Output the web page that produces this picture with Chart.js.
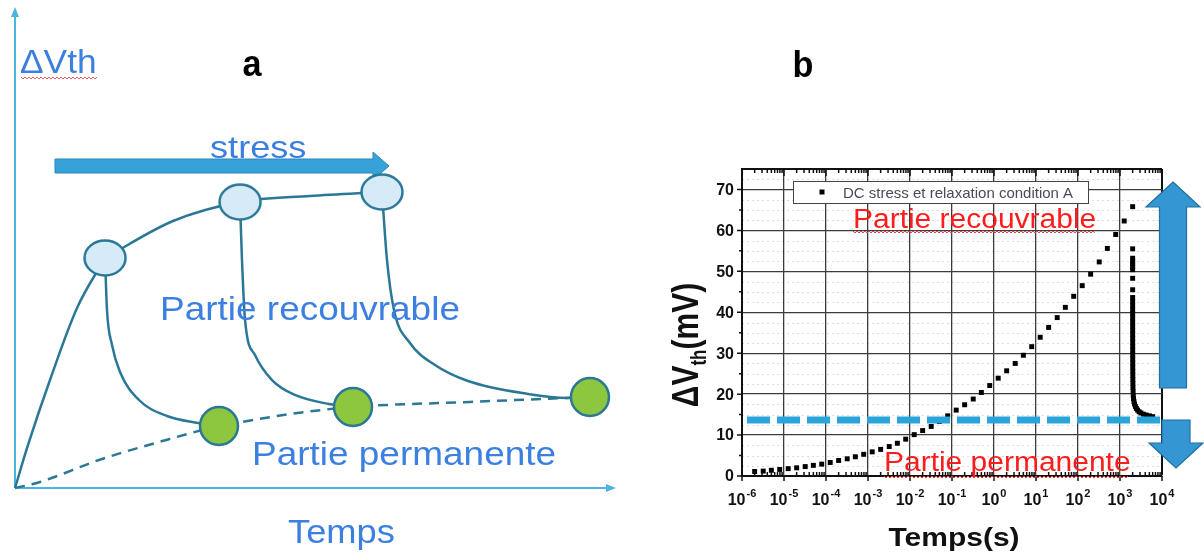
<!DOCTYPE html>
<html>
<head>
<meta charset="utf-8">
<script src="https://cdn.jsdelivr.net/npm/chart.js@4.4.1/dist/chart.umd.min.js"></script>
<style>
  html, body { margin: 0; padding: 0; background: #fff; }
  #wrap { position: relative; width: 1204px; height: 558px; overflow: hidden; }
  #schema { position: absolute; left: 0; top: 0; }
  #mesure { position: absolute; left: 620px; top: 0; }
</style>
</head>
<body>
<div id="wrap">
  <canvas id="schema" width="620" height="558"></canvas>
  <canvas id="mesure" width="584" height="558"></canvas>
</div>
<script>
// ---------- panel a : schematic, arbitrary units (0-100) ----------
const riseTime = [0, 2.18, 5.86, 10.39, 15.08];
const riseShift = [0, 9.0, 22.6, 37.66, 48.12];
const envelopeTime = [15.08, 26.47, 37.69, 49.41, 61.47];
const envelopeShift = [48.12, 55.86, 59.83, 61.09, 61.92];
const relax1Time = [15.08, 15.41, 16.25, 17.59, 20.77, 25.46, 30.65, 34.17];
const relax1Shift = [48.12, 37.24, 29.92, 24.27, 18.41, 15.06, 13.6, 12.97];
const relax2Time = [37.69, 38.02, 38.53, 40.2, 43.05, 46.9, 52.6, 56.62];
const relax2Shift = [59.83, 47.7, 35.15, 27.82, 22.59, 19.46, 17.57, 16.95];
const relax3Time = [61.47, 62.31, 63.48, 66.16, 70.35, 75.88, 85.93, 92.46, 96.31];
const relax3Shift = [61.92, 47.7, 37.24, 30.33, 25.73, 22.38, 19.67, 18.83, 19.04];
const permanentTime = [0, 4.19, 14.07, 24.12, 34.17, 38.02, 46.06, 56.62, 76.21, 96.31];
const permanentShift = [0, 1.26, 5.86, 9.62, 12.97, 13.81, 15.48, 16.95, 18.0, 19.04];
const stressEndTime = [15.08, 37.69, 61.47];
const stressEndShift = [48.12, 59.83, 61.92];
const recoveredTime = [34.17, 56.62, 96.31];
const recoveredShift = [12.97, 16.95, 19.04];

// ---------- panel b : measurement ----------
const stressTime = [
  2e-6, 3.2e-6, 5e-6, 7.9e-6,
  1.26e-5, 2e-5, 3.2e-5, 5e-5, 7.9e-5,
  1.26e-4, 2e-4, 3.2e-4, 5e-4, 7.9e-4,
  1.26e-3, 2e-3, 3.2e-3, 5e-3, 7.9e-3,
  0.0126, 0.02, 0.032, 0.05, 0.079,
  0.126, 0.2, 0.32, 0.5, 0.79,
  1.26, 2, 3.2, 5, 7.9,
  12.6, 20, 32, 50, 79,
  126, 200, 320, 500, 790,
  1260, 2000
];
const stressDeltaVth = [
  1.1, 1.2, 1.4, 1.6,
  1.8, 2.0, 2.3, 2.6, 2.9,
  3.3, 3.8, 4.2, 4.7, 5.3,
  5.9, 6.5, 7.2, 8.0, 9.0,
  10.1, 11.1, 12.1, 13.3, 14.7,
  16.1, 17.4, 18.8, 20.4, 22.1,
  23.9, 25.7, 27.5, 29.5, 31.6,
  33.9, 36.3, 38.7, 41.2, 43.9,
  46.5, 49.3, 52.3, 55.6, 59.0,
  62.3, 65.8
];
const relaxTime = [
  2000, 2000, 2000, 2000, 2000, 2000, 2000, 2000, 2000,
  2001, 2001, 2001, 2001, 2002, 2002, 2002, 2003, 2003, 2004, 2004, 2005, 2006,
  2007, 2008, 2010, 2012, 2015, 2018, 2022, 2028, 2036, 2050,
  2070, 2100, 2150, 2220, 2320, 2450, 2620, 2850, 3150, 3600, 4200, 5000, 6000
];
const relaxDeltaVth = [
  55.5, 53.2, 52.5, 51.8, 51.1, 50.4, 48.3, 45.5, 43.6,
  42.6, 41.6, 40.6, 39.6, 38.6, 37.6, 36.6, 35.6, 34.6, 33.6, 32.6, 31.6, 30.6,
  29.6, 28.6, 27.6, 26.6, 25.6, 24.6, 23.6, 22.6, 21.6, 20.6,
  19.7, 18.9, 18.2, 17.6, 17.0, 16.5, 16.1, 15.7, 15.4, 15.1, 14.9, 14.7, 14.5
];
const permanentLevel = 13.7;
const tickTimes = [1e-6, 1e-5, 1e-4, 1e-3, 1e-2, 1e-1, 1, 10, 100, 1000, 10000];
const tickExponents = ['-6', '-5', '-4', '-3', '-2', '-1', '0', '1', '2', '3', '4'];
const tickShifts = [0, 10, 20, 30, 40, 50, 60, 70];
const seriesLabel = 'DC stress et relaxation condition A';

const FONT = '"Liberation Sans", Arial, sans-serif';
const zip = (xs, ys) => xs.map((x, i) => ({ x: x, y: ys[i] }));

function stretchText(ctx, text, x, y, font, color, sx, align) {
  ctx.save();
  ctx.font = font;
  ctx.fillStyle = color;
  ctx.textAlign = align || 'left';
  ctx.textBaseline = 'alphabetic';
  ctx.translate(x, y);
  ctx.scale(sx, 1);
  ctx.fillText(text, 0, 0);
  ctx.restore();
}

function wavy(ctx, x0, x1, y, color) {
  ctx.save();
  ctx.strokeStyle = color;
  ctx.lineWidth = 1;
  ctx.beginPath();
  let k = 0;
  for (let x = x0; x <= x1; x += 2, k++) {
    const yy = y + (k % 2 ? 1 : -1);
    if (k === 0) ctx.moveTo(x, yy); else ctx.lineTo(x, yy);
  }
  ctx.stroke();
  ctx.restore();
}

// light blue ellipse used as point style
const ellipse = document.createElement('canvas');
ellipse.width = 46;
ellipse.height = 40;
(function () {
  const c = ellipse.getContext('2d');
  c.beginPath();
  c.ellipse(23, 20, 20.5, 17.5, 0, 0, Math.PI * 2);
  c.fillStyle = '#d6ebf7';
  c.fill();
  c.lineWidth = 2.5;
  c.strokeStyle = '#2a7896';
  c.stroke();
})();

const TEAL = '#2a7896';
const BLUE_TEXT = '#3b7fe0';

const curve = (data) => ({
  data: data,
  showLine: true,
  borderColor: TEAL,
  borderWidth: 2.5,
  pointRadius: 0,
  cubicInterpolationMode: 'monotone',
  clip: false,
  order: 2
});

const schemaDecor = {
  id: 'schemaDecor',
  beforeDatasetsDraw(chart) {
    const { ctx, chartArea: a } = chart;
    ctx.save();
    // axes with arrow heads
    ctx.strokeStyle = '#4db3e3';
    ctx.fillStyle = '#4db3e3';
    ctx.lineWidth = 2;
    ctx.beginPath();
    ctx.moveTo(a.left, a.bottom);
    ctx.lineTo(a.left, a.top + 4);
    ctx.moveTo(a.left, a.bottom);
    ctx.lineTo(a.right - 4, a.bottom);
    ctx.stroke();
    ctx.beginPath();
    ctx.moveTo(a.left, a.top - 3);
    ctx.lineTo(a.left - 4, a.top + 7);
    ctx.lineTo(a.left + 4, a.top + 7);
    ctx.closePath();
    ctx.fill();
    ctx.beginPath();
    ctx.moveTo(a.right + 4, a.bottom);
    ctx.lineTo(a.right - 6, a.bottom - 4);
    ctx.lineTo(a.right - 6, a.bottom + 4);
    ctx.closePath();
    ctx.fill();
    // stress arrow
    ctx.fillStyle = '#36a2da';
    ctx.strokeStyle = '#2b85b9';
    ctx.lineWidth = 1;
    ctx.beginPath();
    ctx.moveTo(55, 159);
    ctx.lineTo(373, 159);
    ctx.lineTo(373, 152);
    ctx.lineTo(389, 166);
    ctx.lineTo(373, 180);
    ctx.lineTo(373, 173);
    ctx.lineTo(55, 173);
    ctx.closePath();
    ctx.fill();
    ctx.stroke();
    ctx.restore();
  },
  afterDraw(chart) {
    const ctx = chart.ctx;
    stretchText(ctx, '\u0394Vth', 20, 73, '33px ' + FONT, BLUE_TEXT, 1.07);
    wavy(ctx, 21, 97, 78, '#e06060');
    stretchText(ctx, 'a', 252, 76, 'bold 36px ' + FONT, '#000', 0.95, 'center');
    stretchText(ctx, 'stress', 210, 158, '32px ' + FONT, BLUE_TEXT, 1.13);
    stretchText(ctx, 'Partie recouvrable', 160, 320, '33px ' + FONT, BLUE_TEXT, 1.12);
    stretchText(ctx, 'Partie permanente', 252, 465, '33px ' + FONT, BLUE_TEXT, 1.12);
    stretchText(ctx, 'Temps', 288, 543, '33px ' + FONT, BLUE_TEXT, 1.1);
  }
};

new Chart(document.getElementById('schema'), {
  type: 'scatter',
  data: {
    datasets: [
      curve(zip(riseTime, riseShift)),
      curve(zip(envelopeTime, envelopeShift)),
      curve(zip(relax1Time, relax1Shift)),
      curve(zip(relax2Time, relax2Shift)),
      curve(zip(relax3Time, relax3Shift)),
      Object.assign(curve(zip(permanentTime, permanentShift)), { borderDash: [10, 7] }),
      {
        data: zip(stressEndTime, stressEndShift),
        pointStyle: ellipse,
        pointRadius: 20,
        clip: false,
        order: 1
      },
      {
        data: zip(recoveredTime, recoveredShift),
        pointStyle: 'circle',
        pointRadius: 19,
        pointBackgroundColor: '#8dc63f',
        pointBorderColor: TEAL,
        pointBorderWidth: 2.5,
        clip: false,
        order: 1
      }
    ]
  },
  options: {
    responsive: false,
    animation: false,
    events: [],
    layout: { autoPadding: false, padding: { left: 15, right: 8, top: 10, bottom: 70 } },
    scales: {
      x: { type: 'linear', min: 0, max: 100, display: false },
      y: { type: 'linear', min: 0, max: 100, display: false }
    },
    plugins: { legend: { display: false }, tooltip: { enabled: false } }
  },
  plugins: [schemaDecor]
});

// ---------- panel b ----------
const mesureDecor = {
  id: 'mesureDecor',
  beforeDatasetsDraw(chart) {
    const { ctx, chartArea: a, scales: { y } } = chart;
    ctx.save();
    ctx.strokeStyle = 'rgba(0,0,0,0.13)';
    ctx.lineWidth = 1;
    ctx.setLineDash([2, 3]);
    for (let v = 2.5; v < 75; v += 2.5) {
      if (v % 10 === 0) continue;
      const py = Math.round(y.getPixelForValue(v)) + 0.5;
      ctx.beginPath();
      ctx.moveTo(a.left, py);
      ctx.lineTo(a.right, py);
      ctx.stroke();
    }
    ctx.restore();
  },
  afterDraw(chart) {
    const { ctx, chartArea: a, scales: { x, y } } = chart;
    ctx.save();
    // tick marks
    ctx.strokeStyle = '#111';
    ctx.lineWidth = 1.5;
    ctx.beginPath();
    for (let e = -6; e < 4; e++) {
      for (let m = 2; m < 10; m++) {
        const px = x.getPixelForValue(m * Math.pow(10, e));
        ctx.moveTo(px, a.top); ctx.lineTo(px, a.top + 4);
        ctx.moveTo(px, a.bottom); ctx.lineTo(px, a.bottom - 4);
      }
    }
    tickTimes.forEach(t => {
      const px = x.getPixelForValue(t);
      ctx.moveTo(px, a.bottom); ctx.lineTo(px, a.bottom + 5);
      ctx.moveTo(px, a.top); ctx.lineTo(px, a.top + 7);
    });
    for (let v = 0; v <= 70; v += 5) {
      const py = y.getPixelForValue(v);
      ctx.moveTo(a.left - (v % 10 === 0 ? 5 : 3), py); ctx.lineTo(a.left, py);
    }
    ctx.stroke();

    // x tick labels 10^n
    ctx.fillStyle = '#111';
    ctx.textBaseline = 'alphabetic';
    ctx.textAlign = 'left';
    tickTimes.forEach((t, i) => {
      const px = x.getPixelForValue(t);
      ctx.font = 'bold 16px ' + FONT;
      const w10 = ctx.measureText('10').width;
      ctx.font = 'bold 11px ' + FONT;
      const we = ctx.measureText(tickExponents[i]).width;
      const x0 = px - (w10 + we + 1) / 2;
      ctx.font = 'bold 16px ' + FONT;
      ctx.fillText('10', x0, 505);
      ctx.font = 'bold 11px ' + FONT;
      ctx.fillText(tickExponents[i], x0 + w10 + 1, 497);
    });
    // y tick labels
    ctx.font = 'bold 16px ' + FONT;
    ctx.textAlign = 'right';
    ctx.textBaseline = 'middle';
    tickShifts.forEach(v => ctx.fillText(String(v), a.left - 8, y.getPixelForValue(v) + 1));

    // axis titles
    stretchText(ctx, 'Temps(s)', 334, 546, 'bold 25px ' + FONT, '#111', 1.2, 'center');
    ctx.save();
    ctx.translate(78, 345);
    ctx.rotate(-Math.PI / 2);
    ctx.scale(1, 1.25);
    ctx.textAlign = 'left';
    ctx.textBaseline = 'alphabetic';
    ctx.font = 'bold 30px ' + FONT;
    const wA = ctx.measureText('\u0394V').width;
    const wC = ctx.measureText('(mV)').width;
    ctx.font = 'bold 17px ' + FONT;
    const wB = ctx.measureText('th').width;
    let sx = -(wA + wB + wC) / 2;
    ctx.font = 'bold 30px ' + FONT;
    ctx.fillText('\u0394V', sx, 0);
    ctx.font = 'bold 17px ' + FONT;
    ctx.fillText('th', sx + wA, 6);
    ctx.font = 'bold 30px ' + FONT;
    ctx.fillText('(mV)', sx + wA + wB, 0);
    ctx.restore();

    // legend
    ctx.fillStyle = '#fff';
    ctx.fillRect(173.5, 181.5, 295, 22);
    ctx.strokeStyle = '#444';
    ctx.lineWidth = 1;
    ctx.strokeRect(173.5, 181.5, 295, 22);
    ctx.fillStyle = '#000';
    ctx.fillRect(199.5, 189.5, 5, 5);
    ctx.font = '15px ' + FONT;
    ctx.fillStyle = '#4a4a58';
    ctx.textAlign = 'left';
    ctx.textBaseline = 'alphabetic';
    ctx.fillText(chart.data.datasets[1].label, 223, 198);

    // red annotations
    stretchText(ctx, 'Partie recouvrable', 233, 228, '27px ' + FONT, '#ff1c1c', 1.11);
    wavy(ctx, 233, 476, 232, '#e04848');
    stretchText(ctx, 'Partie permanente', 264, 471, '27px ' + FONT, '#ff1c1c', 1.11);
    wavy(ctx, 264, 508, 477, '#e04848');

    // blue arrows
    ctx.fillStyle = '#3497d3';
    ctx.strokeStyle = '#1f6f9f';
    ctx.lineWidth = 1.2;
    ctx.beginPath();
    ctx.moveTo(553, 182);
    ctx.lineTo(580, 207);
    ctx.lineTo(566.5, 207);
    ctx.lineTo(566.5, 388);
    ctx.lineTo(539.5, 388);
    ctx.lineTo(539.5, 207);
    ctx.lineTo(526, 207);
    ctx.closePath();
    ctx.fill();
    ctx.stroke();
    ctx.beginPath();
    ctx.moveTo(542, 420);
    ctx.lineTo(570, 420);
    ctx.lineTo(570, 443);
    ctx.lineTo(583, 443);
    ctx.lineTo(556, 468);
    ctx.lineTo(529, 443);
    ctx.lineTo(542, 443);
    ctx.closePath();
    ctx.fill();
    ctx.stroke();

    // panel letter
    stretchText(ctx, 'b', 183, 77, 'bold 36px ' + FONT, '#000', 0.95, 'center');
    ctx.restore();
  }
};

const frameColor = c => (c.tick && (c.tick.value === 75 || c.tick.value === 1e4)) ? '#111' : '#3c3c3c';
const frameWidth = c => (c.tick && (c.tick.value === 75 || c.tick.value === 1e4)) ? 2 : 1.3;

new Chart(document.getElementById('mesure'), {
  type: 'scatter',
  data: {
    datasets: [
      {
        label: 'permanent level',
        data: [{ x: tickTimes[0], y: permanentLevel }, { x: tickTimes[tickTimes.length - 1], y: permanentLevel }],
        showLine: true,
        borderColor: '#2aa5dc',
        borderWidth: 7,
        borderDash: [23, 7],
        borderDashOffset: 25,
        pointRadius: 0,
        order: 0
      },
      {
        label: seriesLabel,
        data: zip(stressTime, stressDeltaVth).concat(zip(relaxTime, relaxDeltaVth)),
        pointStyle: 'rect',
        pointRadius: 3.5,
        pointBackgroundColor: '#000',
        pointBorderWidth: 0,
        order: 1
      }
    ]
  },
  options: {
    responsive: false,
    animation: false,
    events: [],
    layout: { autoPadding: false, padding: { left: 122, right: 42, top: 169, bottom: 82 } },
    scales: {
      x: {
        type: 'logarithmic',
        min: 1e-6,
        max: 1e4,
        afterBuildTicks: s => { s.ticks = tickTimes.map(v => ({ value: v })); },
        afterFit: s => { s.height = 0; },
        ticks: { display: false },
        grid: { color: frameColor, lineWidth: frameWidth, drawTicks: false },
        border: { color: '#111', width: 2 }
      },
      y: {
        type: 'linear',
        min: 0,
        max: 75,
        afterFit: s => { s.width = 0; },
        ticks: { display: false, stepSize: 10 },
        grid: { color: frameColor, lineWidth: frameWidth, drawTicks: false },
        border: { color: '#111', width: 2 }
      }
    },
    plugins: { legend: { display: false }, tooltip: { enabled: false } }
  },
  plugins: [mesureDecor]
});
</script>
</body>
</html>
